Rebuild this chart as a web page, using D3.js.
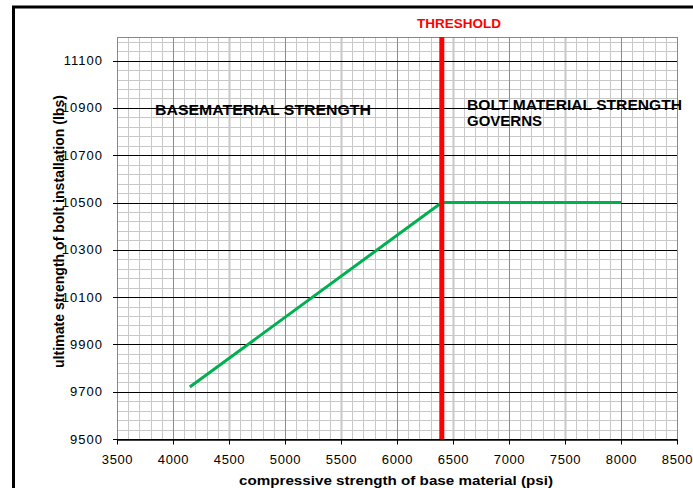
<!DOCTYPE html>
<html>
<head>
<meta charset="utf-8">
<script src="https://cdn.jsdelivr.net/npm/d3@7"></script>
<style>
  body { margin: 0; background: #fff; }
  text { font-family: "Liberation Sans", Arial, sans-serif; }
</style>
</head>
<body>
<div id="chart"></div>
<script>
// data
const lineX = [4150, 6400, 8000];
const lineY = [9720, 10500, 10500];
const threshold = 6400;
const xTicks = [3500, 4000, 4500, 5000, 5500, 6000, 6500, 7000, 7500, 8000, 8500];
const yTicks = [9500, 9700, 9900, 10100, 10300, 10500, 10700, 10900, 11100];

const W = 693, H = 488;
const margin = { top: 37, right: 16, bottom: 49, left: 117 },
      width = W - margin.left - margin.right,
      height = H - margin.top - margin.bottom;

const svg = d3.select("#chart").append("svg")
  .attr("width", W)
  .attr("height", H);

// outer frame (runs off right and bottom)
svg.append("path")
  .attr("d", `M13.5,${H + 5}V7H${W + 5}`)
  .attr("fill", "none")
  .attr("stroke", "#000")
  .attr("stroke-width", 3);

const g = svg.append("g")
  .attr("transform", `translate(${margin.left},${margin.top})`);

const x = d3.scaleLinear().domain([3500, 8500]).range([0, width]);
const y = d3.scaleLinear().domain([9500, 11200]).range([height, 0]);

// minor horizontal grid every 40
g.append("g").selectAll("line")
  .data(d3.range(9540, 11200, 40).filter(v => (v - 9500) % 200 !== 0))
  .join("line")
  .attr("x1", 0).attr("x2", width)
  .attr("y1", d => Math.round(y(d)) + 0.5).attr("y2", d => Math.round(y(d)) + 0.5)
  .attr("stroke", "#c8c8c8");

// vertical grid every 100
g.append("g").selectAll("line")
  .data(d3.range(3600, 8500, 100))
  .join("line")
  .attr("x1", d => Math.round(x(d)) + 0.5).attr("x2", d => Math.round(x(d)) + 0.5)
  .attr("y1", 0).attr("y2", height)
  .attr("stroke", d => d % 1000 === 0 ? "#8c8c8c" : "#c8c8c8")
  .attr("stroke-width", d => (d % 500 === 0 && d % 1000 !== 0) ? 2 : 1);

// plot box (gray)
g.append("rect")
  .attr("x", 0.5).attr("y", 0.5)
  .attr("width", width).attr("height", height)
  .attr("fill", "none")
  .attr("stroke", "#888");

// major horizontal lines + ticks
g.append("g").selectAll("line")
  .data(yTicks)
  .join("line")
  .attr("x1", -4).attr("x2", width)
  .attr("y1", d => Math.round(y(d)) + 0.5).attr("y2", d => Math.round(y(d)) + 0.5)
  .attr("stroke", "#000");

// x axis
const xAxis = g.append("g")
  .attr("transform", `translate(0,${Math.round(height) + 0.5})`)
  .call(d3.axisBottom(x).tickValues(xTicks).tickFormat(d3.format("d"))
    .tickSize(5).tickSizeOuter(0).tickPadding(10));
xAxis.select(".domain").attr("stroke", "#000").attr("stroke-width", 1.5);
xAxis.selectAll("text")
  .style("font-size", "13px")
  .style("letter-spacing", "0.6px")
  .attr("fill", "#000");

// y labels
g.append("g").selectAll("text")
  .data(yTicks)
  .join("text")
  .attr("x", -14)
  .attr("y", d => y(d))
  .attr("dy", "0.35em")
  .attr("text-anchor", "end")
  .style("font-size", "13px")
  .style("letter-spacing", "1px")
  .text(d => d);

// series line
g.append("path")
  .datum(d3.zip(lineX, lineY))
  .attr("fill", "none")
  .attr("stroke", "#00b050")
  .attr("stroke-width", 3)
  .attr("d", d3.line().x(d => x(d[0])).y(d => y(d[1])));

// threshold
g.append("line")
  .attr("x1", x(threshold)).attr("x2", x(threshold))
  .attr("y1", 0).attr("y2", height)
  .attr("stroke", "#ff0000")
  .attr("stroke-width", 5);

svg.append("text")
  .attr("x", 417).attr("y", 28)
  .attr("fill", "#ff0000")
  .attr("textLength", 84)
  .attr("lengthAdjust", "spacingAndGlyphs")
  .style("font-size", "12px")
  .style("font-weight", "bold")
  .text("THRESHOLD");

// region notes
svg.append("text")
  .attr("x", 155).attr("y", 115)
  .attr("textLength", 216)
  .attr("lengthAdjust", "spacingAndGlyphs")
  .style("font-size", "15px")
  .style("font-weight", "bold")
  .text("BASEMATERIAL STRENGTH");

svg.append("text")
  .attr("x", 467).attr("y", 110)
  .attr("textLength", 215)
  .attr("lengthAdjust", "spacingAndGlyphs")
  .style("font-size", "15px")
  .style("font-weight", "bold")
  .text("BOLT MATERIAL STRENGTH");

svg.append("text")
  .attr("x", 467).attr("y", 126)
  .style("font-size", "15px")
  .style("font-weight", "bold")
  .text("GOVERNS");

// axis titles
svg.append("text")
  .attr("x", 396).attr("y", 485)
  .attr("text-anchor", "middle")
  .attr("textLength", 314)
  .attr("lengthAdjust", "spacingAndGlyphs")
  .style("font-size", "13.5px")
  .style("font-weight", "bold")
  .text("compressive strength of base material (psi)");

svg.append("text")
  .attr("transform", "translate(64,231.5) rotate(-90)")
  .attr("text-anchor", "middle")
  .attr("textLength", 273)
  .attr("lengthAdjust", "spacingAndGlyphs")
  .style("font-size", "14px")
  .style("font-weight", "bold")
  .text("ultimate strength of bolt installation (lbs)");
</script>
</body>
</html>
